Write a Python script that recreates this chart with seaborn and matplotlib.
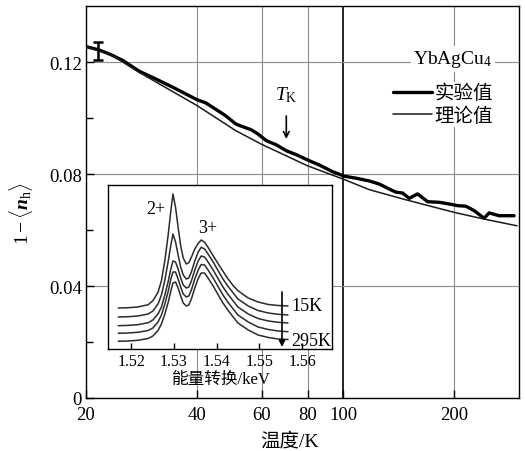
import matplotlib
matplotlib.use("Agg")
import matplotlib.pyplot as plt
import seaborn as sns
import pandas as pd
from matplotlib.ticker import FixedLocator, FixedFormatter, NullLocator

# ---------------- main chart data ----------------
temp_exp = [20.0, 21.7, 23.4, 25.2, 27.9, 31.0, 34.4, 37.3, 40.1, 42.3, 45.9, 47.9,
            51.0, 52.3, 56.2, 58.6, 61.8, 65.8, 70.0, 74.5, 80.0, 86.1, 93.6, 100.7,
            108.3, 117.7, 125.3, 133.4, 139.0, 144.9, 151.0, 159.1, 169.4, 182.1,
            193.8, 204.2, 215.2, 226.7, 241.2, 248.9, 265.0, 290.9]
n_exp = [0.1255, 0.1243, 0.1226, 0.1205, 0.1167, 0.1139, 0.1110, 0.1086, 0.1065, 0.1054,
         0.1024, 0.1008, 0.0979, 0.0973, 0.0958, 0.0943, 0.0919, 0.0904, 0.0883, 0.0869,
         0.0850, 0.0832, 0.0808, 0.0792, 0.0785, 0.0775, 0.0764, 0.0746, 0.0735, 0.0732,
         0.0713, 0.0729, 0.0701, 0.0699, 0.0693, 0.0687, 0.0685, 0.0669, 0.0642, 0.0661,
         0.0651, 0.0651]
temp_theory = [20.0, 23.4, 27.9, 40.1, 51.0, 59.8, 79.7, 100.7, 117.7, 144.9, 200.0, 241.2, 296.3]
n_theory = [0.1255, 0.1226, 0.1163, 0.1044, 0.0955, 0.0907, 0.0830, 0.0780, 0.0744,
            0.0711, 0.0663, 0.0639, 0.0615]
err_temp = [21.6]
err_val = [0.124]
err_half = [0.0032]
series_labels = ["实验值", "理论值"]
compound = r"YbAgCu$_4$"
tk_temp = 70
x_ticks = [20, 40, 60, 80, 100, 200]
x_tick_labels = ["20", "40", "60", "80", "100", "200"]
y_ticks = [0, 0.04, 0.08, 0.12]
y_tick_labels = ["0", "0.04", "0.08", "0.12"]
y_minor = [0.02, 0.06, 0.10]

# ---------------- inset data (arb. units, spectra stacked 15K -> 295K) ----------------
energy = [1.5170, 1.5193, 1.5216, 1.5240, 1.5251, 1.5263, 1.5271, 1.5279, 1.5287,
          1.5293, 1.5298, 1.5304, 1.5310, 1.5316, 1.5322, 1.5329, 1.5335, 1.5341,
          1.5349, 1.5357, 1.5364, 1.5372, 1.5380, 1.5392, 1.5404, 1.5415, 1.5427,
          1.5439, 1.5450, 1.5474, 1.5497, 1.5521, 1.5544, 1.5567]
spec_15K = [41, 41.3, 42, 44.3, 48.3, 56.7, 68.3, 88.3, 115, 138.3, 155, 141.7, 121.7,
            103.3, 91, 85, 86.3, 91.7, 100, 105.7, 109, 106.7, 101.7, 93.3, 85, 77.7, 70,
            63.3, 58.3, 51, 47, 44.5, 43.5, 43]
spec_2 = [32, 32.3, 33, 35, 38, 45, 54, 69, 88, 104, 115, 107, 94, 82, 74, 70, 71, 77,
          88, 97, 101.7, 100, 95, 87, 78, 70, 62.5, 56, 50, 43, 38.5, 36, 34.7, 34]
spec_3 = [23.3, 23.6, 24.3, 26.3, 29, 35, 42, 54, 68, 80, 88, 87, 80, 71, 64, 61, 62, 68,
          79, 88, 93, 92, 87, 79, 70, 62, 54.5, 48, 42, 35, 30.5, 28, 26.7, 26]
spec_4 = [15.7, 16, 16.7, 18.5, 21, 27, 34, 45, 58, 70, 77, 77, 70, 62, 55, 52, 53, 59,
          70, 79, 84.5, 84, 79, 71, 62, 54, 46.5, 40, 34, 27, 22, 19.5, 18, 17.3]
spec_295K = [7.7, 8, 8.7, 10.5, 13, 18.5, 25, 35, 47, 58, 66, 67, 61, 53, 46, 43, 44, 50,
             61, 70.5, 76, 76, 71, 63, 54, 46, 38.5, 32, 26, 19, 14, 11.5, 10, 9.5]
inset_ticks = [1.52, 1.53, 1.54, 1.55, 1.56]
inset_tick_labels = ["1.52", "1.53", "1.54", "1.55", "1.56"]
inset_xlabel = "能量转换/keV"
temp_labels = ["15K", "295K"]

# ---------------- style ----------------
sns.set_theme(style="white")
plt.rcParams["font.family"] = ["Liberation Serif", "Noto Sans CJK SC"]
plt.rcParams["mathtext.fontset"] = "custom"
plt.rcParams["mathtext.rm"] = "Liberation Serif"
plt.rcParams["mathtext.it"] = "Liberation Serif:italic"
plt.rcParams["mathtext.bf"] = "Liberation Serif:bold"
plt.rcParams["mathtext.bfit"] = "Liberation Serif:italic:bold"
plt.rcParams["axes.unicode_minus"] = True

W, H = 525, 452
fig = plt.figure(figsize=(W / 100, H / 100), dpi=100)
ax = fig.add_axes([86 / W, 53 / H, 433 / W, 392 / H])

df_exp = pd.DataFrame({"T": temp_exp, "n": n_exp})
df_th = pd.DataFrame({"T": temp_theory, "n": n_theory})
sns.lineplot(data=df_exp, x="T", y="n", ax=ax, color="black", lw=2.4,
             label=series_labels[0], zorder=3)
sns.lineplot(data=df_th, x="T", y="n", ax=ax, color="#1a1a1a", lw=1.1,
             label=series_labels[1], zorder=3)
ax.errorbar(err_temp, err_val, yerr=err_half, fmt="none", ecolor="black",
            elinewidth=1.8, capsize=3.5, capthick=1.8, zorder=4)

ax.set_xscale("log")
ax.set_xlim(20, 300)
ax.set_ylim(0, 0.14)
ax.xaxis.set_major_locator(FixedLocator(x_ticks))
ax.xaxis.set_major_formatter(FixedFormatter(x_tick_labels))
ax.xaxis.set_minor_locator(NullLocator())
ax.yaxis.set_major_locator(FixedLocator(y_ticks))
ax.yaxis.set_major_formatter(FixedFormatter(y_tick_labels))
ax.yaxis.set_minor_locator(FixedLocator(y_minor))
ax.tick_params(which="both", direction="in", color="black", width=1,
               labelsize=13.5, labelcolor="black")
ax.tick_params(which="major", length=6)
ax.tick_params(which="minor", length=5)
ax.tick_params(axis="y", which="both", left=True, pad=3)
ax.tick_params(axis="x", which="both", bottom=True, pad=6)

ax.set_axisbelow(True)
ax.grid(True, which="major", color="#8c8c8c", lw=0.8)
for t in ax.xaxis.get_major_ticks():
    t.gridline.set_color("#8c8c8c")
ax.xaxis.get_major_ticks()[4].gridline.set_color("black")
ax.xaxis.get_major_ticks()[4].gridline.set_linewidth(1.2)
for s in ax.spines.values():
    s.set_color("black")
    s.set_linewidth(1.0)

ax.set_xlabel("温度/K", fontsize=14, color="black")
ax.xaxis.set_label_coords(0.471, -0.086)
ax.set_ylabel(r"$1-\langle\mathbfit{n}_\mathrm{h}\rangle$", fontsize=14, color="black")
ax.yaxis.set_label_coords(-0.118, 0.474)

leg = ax.legend(loc="upper left", bbox_to_anchor=(391 / W, 1 - 83 / H),
                bbox_transform=fig.transFigure, frameon=True, facecolor="white",
                edgecolor="none", framealpha=1, fontsize=14, handlelength=2.0,
                handletextpad=0.15, labelspacing=0.2, borderpad=0.1, borderaxespad=0)
for txt in leg.get_texts():
    txt.set_color("black")

ax.text(0.8476, 0.865, compound, transform=ax.transAxes, ha="center", va="center",
        fontsize=14, color="black",
        bbox=dict(facecolor="white", edgecolor="none", pad=2))
ax.text(tk_temp, 0.1086, r"$T_\mathrm{K}$", ha="center", va="center", fontsize=14,
        color="black")
ax.annotate("", xy=(tk_temp, 0.0925), xytext=(tk_temp, 0.1007),
            arrowprops=dict(arrowstyle="->", lw=1.2, color="black", mutation_scale=10,
                            shrinkA=0, shrinkB=0))

# ---------------- inset ----------------
axin = fig.add_axes([108 / W, (H - 350) / H, 224 / W, 164 / H])
axin.set_facecolor("white")
for spec in [spec_15K, spec_2, spec_3, spec_4, spec_295K]:
    sns.lineplot(x=energy, y=spec, ax=axin, color="#2b2b2b", lw=1.1, legend=False)
axin.set_xlim(1.5146, 1.567)
axin.set_ylim(0, 164)
axin.xaxis.set_major_locator(FixedLocator(inset_ticks))
axin.xaxis.set_major_formatter(FixedFormatter(inset_tick_labels))
axin.set_yticks([])
axin.tick_params(axis="x", direction="in", length=4, width=1, color="black",
                 labelsize=11.5, labelcolor="black", pad=3, bottom=True)
axin.set_xlabel(inset_xlabel, fontsize=12, color="black", labelpad=1)
axin.set_ylabel("")
axin.grid(False)
for s in axin.spines.values():
    s.set_color("black")
    s.set_linewidth(1.0)

axin.text(1.5258, 140, "2+", ha="center", va="center", fontsize=13, color="black")
axin.text(1.5380, 121, "3+", ha="center", va="center", fontsize=13, color="black")
axin.text(1.5574, 43, temp_labels[0], ha="left", va="center", fontsize=13, color="black")
axin.text(1.5574, 8, temp_labels[1], ha="left", va="center", fontsize=13, color="black")
axin.annotate("", xy=(1.5553, 2), xytext=(1.5553, 57),
              arrowprops=dict(arrowstyle="-|>", lw=1.2, color="black", mutation_scale=9,
                              shrinkA=0, shrinkB=0))

fig.savefig("out.png", dpi=100)
